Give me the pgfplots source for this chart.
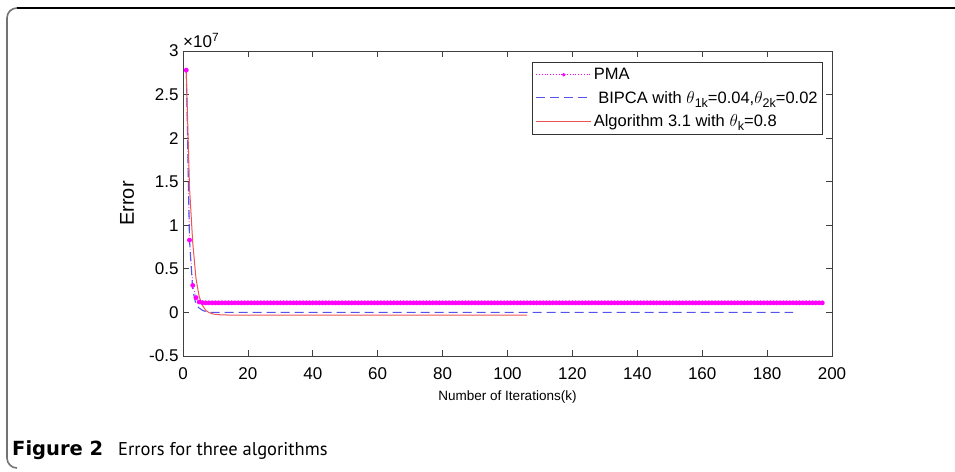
\documentclass[border=0pt]{standalone}
\usepackage{pgfplots}
\pgfplotsset{compat=1.18}
\usepackage{fontspec}
\setmainfont{Liberation Sans}
\newfontfamily\capfont{PT Sans}
\newfontfamily\capbold{DejaVu Sans}
\definecolor{pmac}{rgb}{1,0,1}
\definecolor{bipc}{rgb}{0.33,0.33,0.93}
\definecolor{algc}{rgb}{0.93,0.33,0.33}
\newcommand{\msub}[1]{\raisebox{-0.5ex}{\fontsize{12.5}{13}\selectfont #1}}
\pgfplotsset{
  mlline/.style={legend image code/.code={\draw[##1] (0pt,0pt) -- (55pt,0pt);}},
  bipcleg/.style={legend image code/.code={\draw[##1,draw=bipc] (0pt,0pt) -- (55pt,0pt);}},
  algleg/.style={legend image code/.code={\draw[##1,draw=algc] (0pt,0pt) -- (55pt,0pt);}},
  mlmark/.style={legend image code/.code={\draw[##1,draw=pmac,mark repeat=2,mark phase=2,mark size=1.3pt] plot coordinates {(0pt,0pt) (27.5pt,0pt) (55pt,0pt)};}},
}
\begin{document}
\begin{tikzpicture}
\useasboundingbox (0pt,0pt) rectangle (955pt,471pt);
% frame
\draw[black, line width=1.3pt] (955pt,463pt) -- (17pt,463pt);
\draw[black!55, line width=1.6pt] (17pt,463pt) arc[start angle=90,end angle=180,radius=10pt] -- (7pt,13pt) arc[start angle=180,end angle=270,radius=10pt];
\node[anchor=base west, inner sep=0pt] at (12pt,16pt) {{\capbold\fontsize{19.5}{21}\selectfont\bfseries Figure 2}\hspace*{15pt}{\capfont\fontsize{18.5}{21}\selectfont Errors for three algorithms}};
\begin{axis}[
  at={(183pt,115pt)}, anchor=south west,
  scale only axis, width=649pt, height=305pt,
  xmin=0, xmax=200, ymin=-5e6, ymax=3e7,
  xtick={0,20,...,200},
  ytick={-5e6,0,5e6,1e7,1.5e7,2e7,2.5e7,3e7},
  yticklabels={-0.5,0,0.5,1,1.5,2,2.5,3},
  scaled y ticks=false,
  /pgf/number format/assume math mode=true,
  tick align=inside, major tick length=6pt,
  axis line style={black!75, line width=0.8pt},
  tick style={black!75, line width=0.8pt},
  ticklabel style={font=\fontsize{17}{20}\selectfont},
  xticklabel style={yshift=-8pt},
  yticklabel style={xshift=-1pt},
  xlabel={Number of Iterations(k)},
  ylabel={Error},
  every axis x label/.style={at={(axis description cs:0.5,-0.134)},anchor=center,font=\fontsize{13.5}{15}\selectfont},
  every axis y label/.style={at={(axis description cs:-0.0863,0.5)},rotate=90,anchor=center,font=\fontsize{20}{22}\selectfont},
  legend cell align=left,
  legend style={at={(rel axis cs:0.986,0.964)}, anchor=north east, draw=black!80, line width=0.6pt, font=\fontsize{16.5}{19}\selectfont, inner xsep=3pt, inner ysep=4pt, row sep=6pt, nodes={inner xsep=2pt, inner ysep=2pt}},
  mlline,
  clip=false,
]
\node[anchor=south west, inner sep=0pt, yshift=3pt, font=\fontsize{17}{20}\selectfont] at (rel axis cs:0,1) {×10\textsuperscript{7}};
\addplot[color=pmac, draw=pmac, dotted, line width=0.8pt, mark=*, mark size=2pt, mark options={solid, draw=pmac, fill=pmac}, mlmark]
coordinates {
(1,27.8e6) (2,8.3e6) (3,3.1e6) (4,1.7e6) (5,1.2e6) (6,1.12e6)
(7,1.1e6) (8,1.1e6) (9,1.1e6) (10,1.1e6) (11,1.1e6) (12,1.1e6) (13,1.1e6) (14,1.1e6) (15,1.1e6) (16,1.1e6)
(17,1.1e6) (18,1.1e6) (19,1.1e6) (20,1.1e6) (21,1.1e6) (22,1.1e6) (23,1.1e6) (24,1.1e6) (25,1.1e6) (26,1.1e6)
(27,1.1e6) (28,1.1e6) (29,1.1e6) (30,1.1e6) (31,1.1e6) (32,1.1e6) (33,1.1e6) (34,1.1e6) (35,1.1e6) (36,1.1e6)
(37,1.1e6) (38,1.1e6) (39,1.1e6) (40,1.1e6) (41,1.1e6) (42,1.1e6) (43,1.1e6) (44,1.1e6) (45,1.1e6) (46,1.1e6)
(47,1.1e6) (48,1.1e6) (49,1.1e6) (50,1.1e6) (51,1.1e6) (52,1.1e6) (53,1.1e6) (54,1.1e6) (55,1.1e6) (56,1.1e6)
(57,1.1e6) (58,1.1e6) (59,1.1e6) (60,1.1e6) (61,1.1e6) (62,1.1e6) (63,1.1e6) (64,1.1e6) (65,1.1e6) (66,1.1e6)
(67,1.1e6) (68,1.1e6) (69,1.1e6) (70,1.1e6) (71,1.1e6) (72,1.1e6) (73,1.1e6) (74,1.1e6) (75,1.1e6) (76,1.1e6)
(77,1.1e6) (78,1.1e6) (79,1.1e6) (80,1.1e6) (81,1.1e6) (82,1.1e6) (83,1.1e6) (84,1.1e6) (85,1.1e6) (86,1.1e6)
(87,1.1e6) (88,1.1e6) (89,1.1e6) (90,1.1e6) (91,1.1e6) (92,1.1e6) (93,1.1e6) (94,1.1e6) (95,1.1e6) (96,1.1e6)
(97,1.1e6) (98,1.1e6) (99,1.1e6) (100,1.1e6) (101,1.1e6) (102,1.1e6) (103,1.1e6) (104,1.1e6) (105,1.1e6) (106,1.1e6)
(107,1.1e6) (108,1.1e6) (109,1.1e6) (110,1.1e6) (111,1.1e6) (112,1.1e6) (113,1.1e6) (114,1.1e6) (115,1.1e6) (116,1.1e6)
(117,1.1e6) (118,1.1e6) (119,1.1e6) (120,1.1e6) (121,1.1e6) (122,1.1e6) (123,1.1e6) (124,1.1e6) (125,1.1e6) (126,1.1e6)
(127,1.1e6) (128,1.1e6) (129,1.1e6) (130,1.1e6) (131,1.1e6) (132,1.1e6) (133,1.1e6) (134,1.1e6) (135,1.1e6) (136,1.1e6)
(137,1.1e6) (138,1.1e6) (139,1.1e6) (140,1.1e6) (141,1.1e6) (142,1.1e6) (143,1.1e6) (144,1.1e6) (145,1.1e6) (146,1.1e6)
(147,1.1e6) (148,1.1e6) (149,1.1e6) (150,1.1e6) (151,1.1e6) (152,1.1e6) (153,1.1e6) (154,1.1e6) (155,1.1e6) (156,1.1e6)
(157,1.1e6) (158,1.1e6) (159,1.1e6) (160,1.1e6) (161,1.1e6) (162,1.1e6) (163,1.1e6) (164,1.1e6) (165,1.1e6) (166,1.1e6)
(167,1.1e6) (168,1.1e6) (169,1.1e6) (170,1.1e6) (171,1.1e6) (172,1.1e6) (173,1.1e6) (174,1.1e6) (175,1.1e6) (176,1.1e6)
(177,1.1e6) (178,1.1e6) (179,1.1e6) (180,1.1e6) (181,1.1e6) (182,1.1e6) (183,1.1e6) (184,1.1e6) (185,1.1e6) (186,1.1e6)
(187,1.1e6) (188,1.1e6) (189,1.1e6) (190,1.1e6) (191,1.1e6) (192,1.1e6) (193,1.1e6) (194,1.1e6) (195,1.1e6) (196,1.1e6)
(197,1.1e6)
};
\addlegendentry{PMA}
\addplot[color=bipc, draw=bipc, line width=1.1pt, dash pattern=on 9pt off 5pt, bipcleg]
coordinates {
(1,27.8e6) (2,8.3e6) (3,2.6e6) (4,0.9e6) (5,0.5e6) (6,0.25e6) (7,0.1e6) (8,0.03e6) (9,0) (188,0)
};
\addlegendentry{\ BIPCA with $\theta$\msub{1k}=0.04,$\theta$\msub{2k}=0.02}
\addplot[color=algc, draw=algc, line width=1pt, algleg]
coordinates {
(1,27.8e6) (2,14.4e6) (3,8.0e6) (4,3.9e6) (5,1.8e6) (6,0.8e6) (7,0.25e6) (8,-0.02e6) (9,-0.15e6) (10,-0.22e6) (11,-0.26e6) (12,-0.28e6) (13,-0.29e6) (14,-0.3e6) (106,-0.3e6)
};
\addlegendentry{Algorithm 3.1 with $\theta$\msub{k}=0.8}
\end{axis}
\end{tikzpicture}
\end{document}
